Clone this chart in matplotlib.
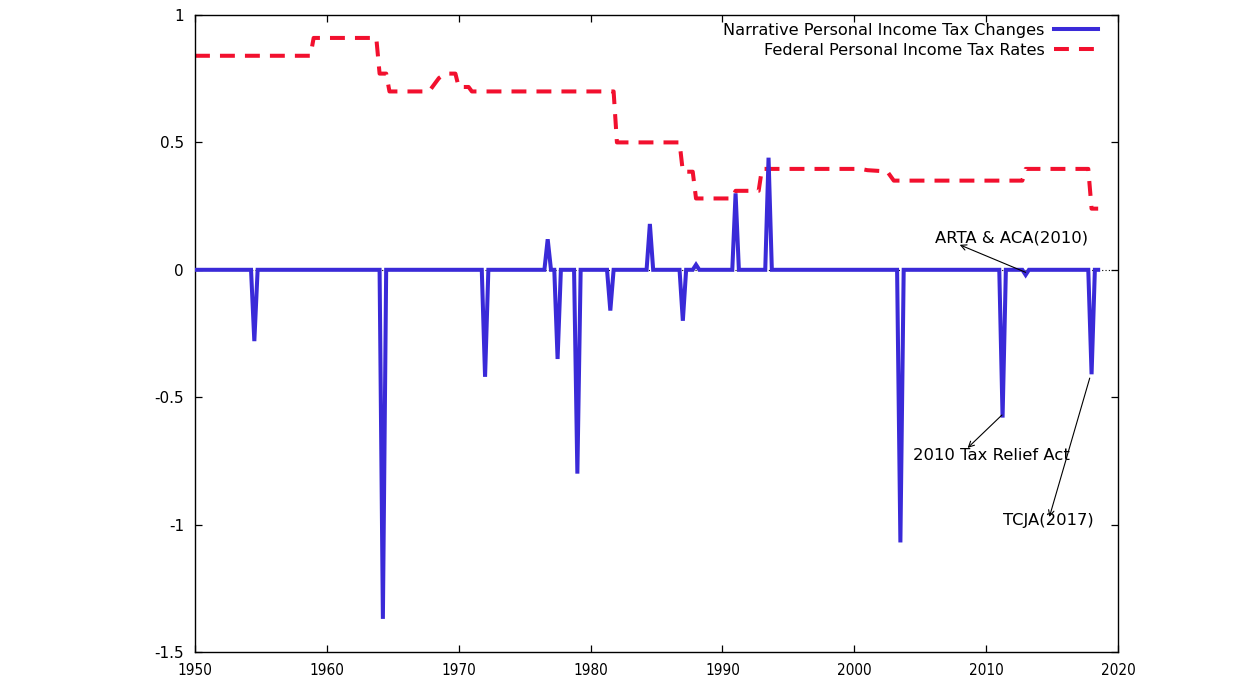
import matplotlib

matplotlib.use("Agg")
import matplotlib.pyplot as plt

# narrative personal income tax changes (quarterly, only vertices around events)
narr_years = [
    1950.0, 1954.25, 1954.5, 1954.75,
    1964.0, 1964.25, 1964.5,
    1971.75, 1972.0, 1972.25,
    1976.5, 1976.75, 1977.0, 1977.25, 1977.5, 1977.75,
    1978.75, 1979.0, 1979.25,
    1981.25, 1981.5, 1981.75,
    1984.25, 1984.5, 1984.75,
    1986.75, 1987.0, 1987.25, 1987.75, 1988.0, 1988.25,
    1990.75, 1991.0, 1991.25,
    1993.25, 1993.5, 1993.75,
    2003.25, 2003.5, 2003.75,
    2011.0, 2011.25, 2011.5,
    2012.75, 2013.0, 2013.25,
    2017.75, 2018.0, 2018.25, 2018.5,
]
narr_vals = [
    0, 0, -0.28, 0,
    0, -1.37, 0,
    0, -0.42, 0,
    0, 0.12, 0, 0, -0.35, 0,
    0, -0.80, 0,
    0, -0.16, 0,
    0, 0.18, 0,
    0, -0.20, 0, 0, 0.02, 0,
    0, 0.30, 0,
    0, 0.44, 0,
    0, -1.07, 0,
    0, -0.58, 0,
    0, -0.02, 0,
    0, -0.41, 0, 0,
]

# federal top personal income tax rate (vertices of the quarterly line)
rate_years = [
    1950.0, 1958.75, 1959.0, 1963.75, 1964.0, 1964.5, 1964.75,
    1967.75, 1968.5, 1969.0, 1969.75, 1970.0, 1970.75, 1971.0,
    1981.75, 1982.0, 1986.75, 1987.0, 1987.75, 1988.0,
    1990.75, 1991.0, 1992.75, 1993.0, 2000.5, 2001.0, 2002.5, 2003.0,
    2012.75, 2013.0, 2017.75, 2018.0, 2018.5,
]
rate_vals = [
    0.84, 0.84, 0.91, 0.91, 0.77, 0.77, 0.70,
    0.70, 0.7525, 0.77, 0.77, 0.7175, 0.7175, 0.70,
    0.70, 0.50, 0.50, 0.385, 0.385, 0.28,
    0.28, 0.31, 0.31, 0.396, 0.396, 0.391, 0.386, 0.35,
    0.35, 0.396, 0.396, 0.24, 0.24,
]

x_ticks = [1950, 1960, 1970, 1980, 1990, 2000, 2010, 2020]
y_ticks = [-1.5, -1, -0.5, 0, 0.5, 1]
y_labels = ["-1.5", "-1", "-0.5", "0", "0.5", "1"]

blue = "#3a2ad8"
red = "#f2102e"

fig = plt.figure(figsize=(12.54, 6.98), dpi=100)
ax = fig.add_axes([0.1555, 0.0659, 0.7360, 0.9126])

ax.axhline(0, color="black", lw=0.8, ls=(0, (1, 2)), zorder=1)
ax.plot(narr_years, narr_vals, color=blue, lw=2.9, solid_joinstyle="miter",
        label="Narrative Personal Income Tax Changes", zorder=3)
ax.plot(rate_years, rate_vals, color=red, lw=2.9, dashes=(3.7, 2.5),
        label="Federal Personal Income Tax Rates", zorder=2)

ax.set_xlim(1950, 2020)
ax.set_ylim(-1.5, 1)
ax.set_xticks(x_ticks)
ax.set_yticks(y_ticks)
ax.set_yticklabels(y_labels)

for lab in ax.get_xticklabels():
    lab.set_fontfamily("DejaVu Sans")
    lab.set_fontstretch("condensed")
    lab.set_fontsize(11)
for lab in ax.get_yticklabels():
    lab.set_fontsize(11)

ax.tick_params(direction="in", length=5, width=0.9, top=True, right=True)
ax.tick_params(axis="x", pad=8)
ax.tick_params(axis="y", pad=8)
for sp in ax.spines.values():
    sp.set_linewidth(1.0)

leg = ax.legend(loc="upper right", bbox_to_anchor=(1 - 20 / 923, 1 - 8 / 637),
                frameon=False, markerfirst=False, fontsize=11.6,
                handlelength=2.7, handletextpad=0.6, labelspacing=0.3,
                borderaxespad=0, borderpad=0)

arrow = dict(arrowstyle="->", color="black", lw=0.8, shrinkA=0, shrinkB=0)
ax.annotate("", xy=(2008.0, 0.098), xytext=(2013.0, -0.01), arrowprops=arrow)
ax.text(2006.1, 0.126, "ARTA & ACA(2010)", fontsize=11.8, va="center", ha="left")
ax.annotate("", xy=(2008.6, -0.699), xytext=(2011.2, -0.57), arrowprops=arrow)
ax.text(2004.43, -0.73, "2010 Tax Relief Act", fontsize=11.8, va="center", ha="left")
ax.annotate("", xy=(2014.8, -0.97), xytext=(2017.86, -0.425), arrowprops=arrow)
ax.text(2011.26, -0.985, "TCJA(2017)", fontsize=11.8, va="center", ha="left")

fig.savefig("out.png", dpi=100)
